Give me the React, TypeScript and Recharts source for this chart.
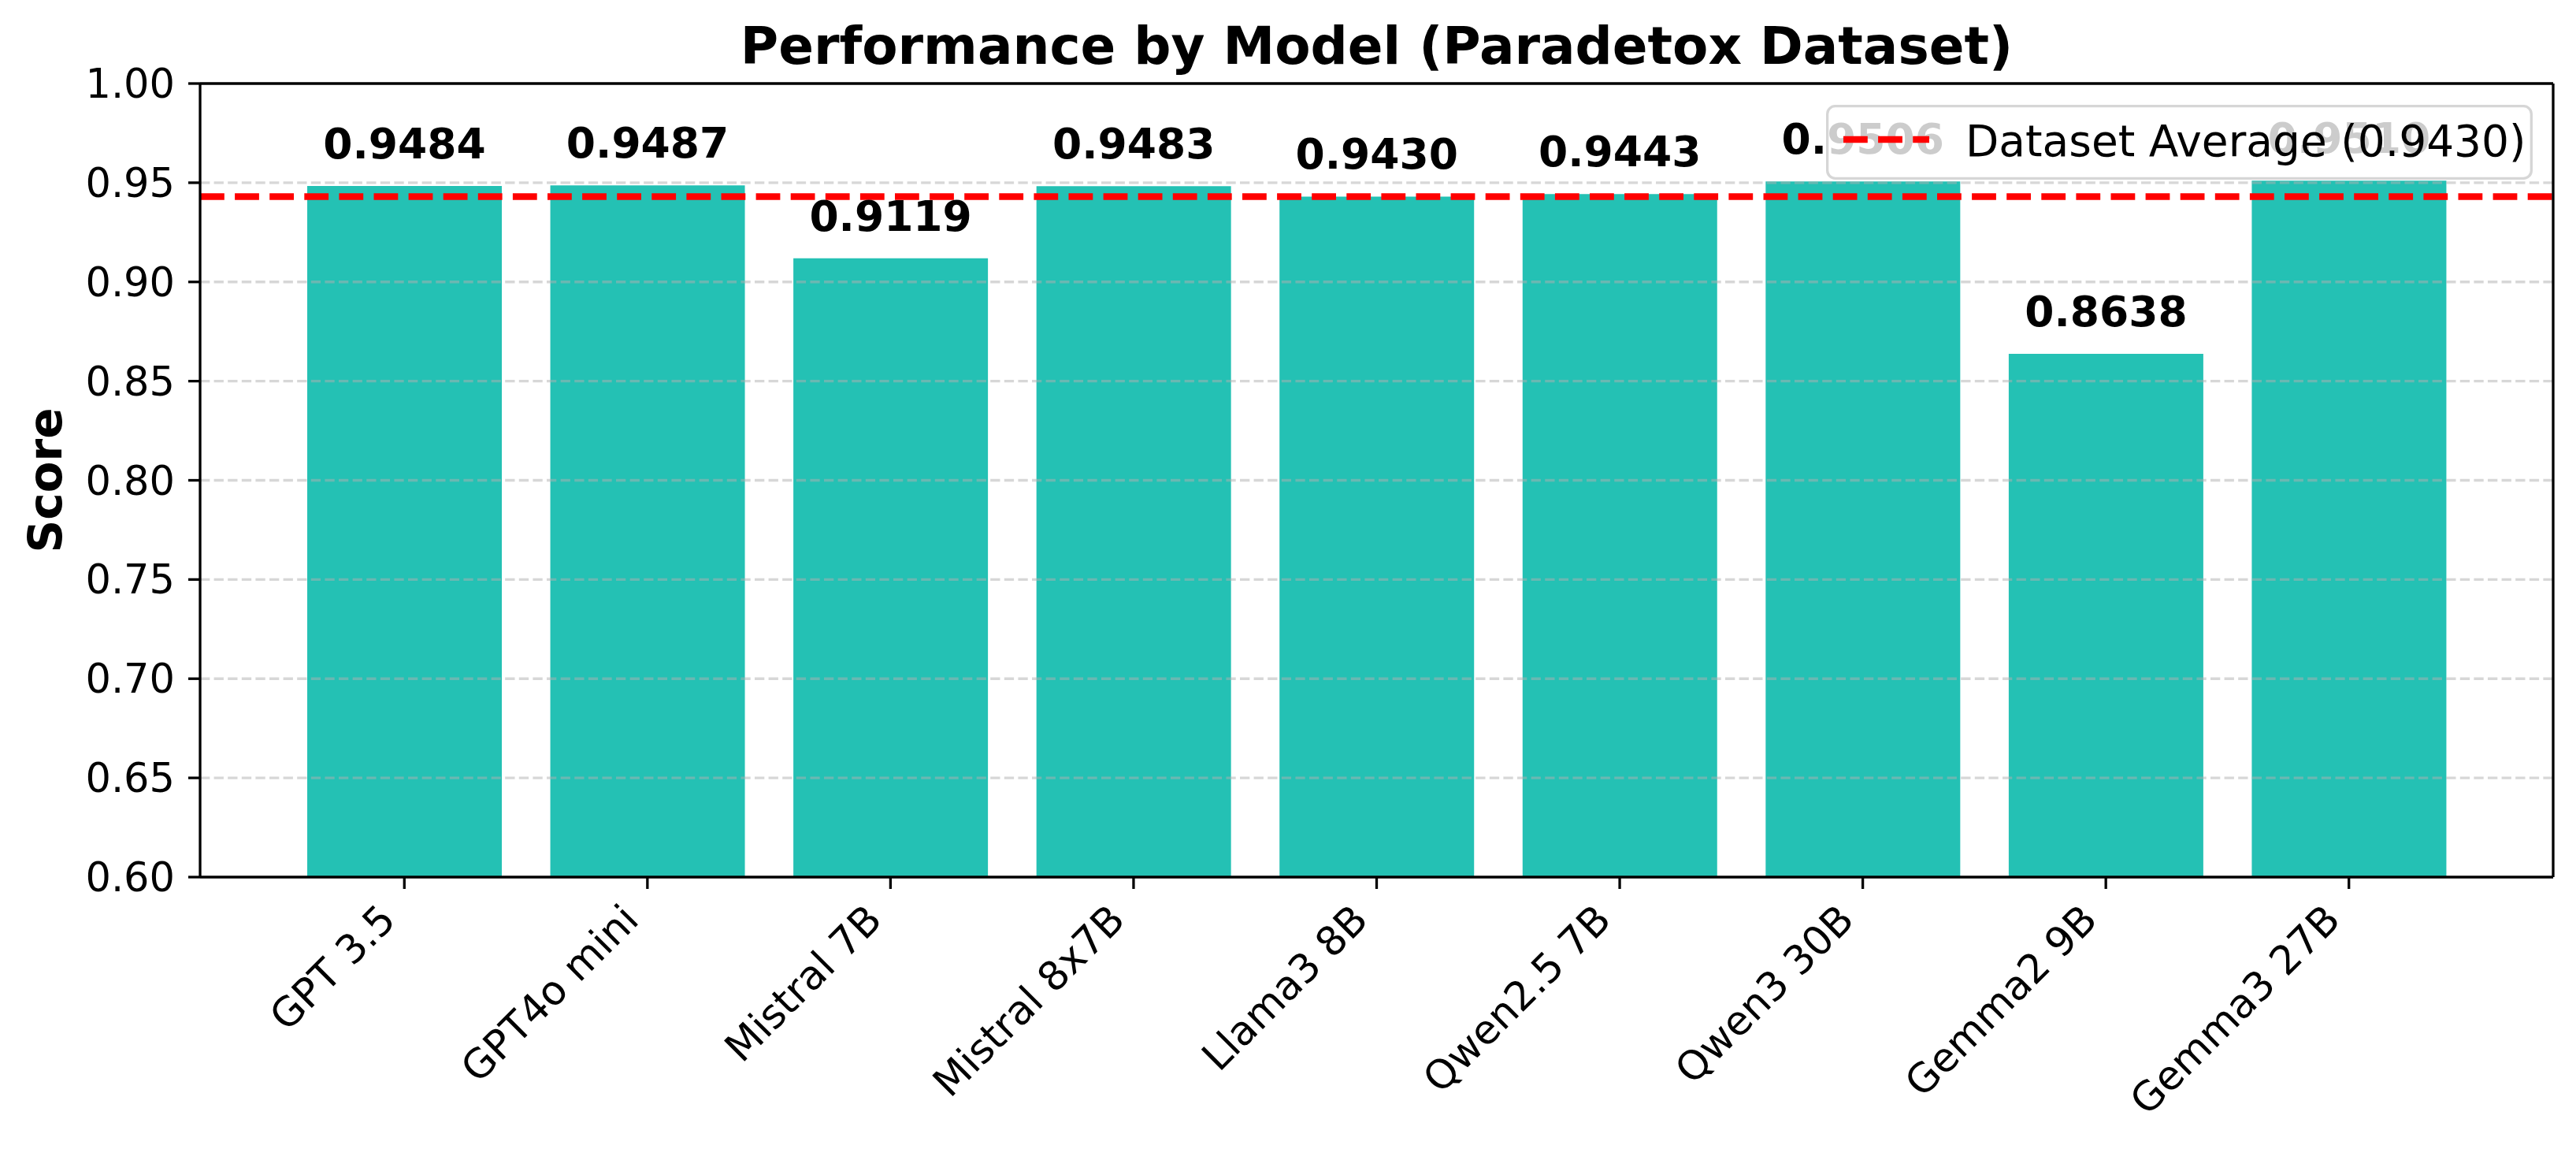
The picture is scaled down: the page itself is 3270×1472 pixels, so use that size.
import React from "react";
import {
  Bar,
  BarChart,
  LabelList,
  Legend,
  ReferenceLine,
  XAxis,
  YAxis
} from "recharts";

const models = [
  "GPT 3.5",
  "GPT4o mini",
  "Mistral 7B",
  "Mistral 8x7B",
  "Llama3 8B",
  "Qwen2.5 7B",
  "Qwen3 30B",
  "Gemma2 9B",
  "Gemma3 27B"
];
const scores = [0.9484, 0.9487, 0.9119, 0.9483, 0.943, 0.9443, 0.9506, 0.8638, 0.951];
const datasetAverage = 0.943;
const yTicks = [0.6, 0.65, 0.7, 0.75, 0.8, 0.85, 0.9, 0.95, 1.0];
const yDomain: [number, number] = [0.6, 1.0];

const data = models.map((model, i) => ({ model, score: scores[i] }));

const W = 3270;
const H = 1472;
const BAR_COLOR = "#24c1b4";
const FONT = "'DejaVu Sans', sans-serif";

const XTick = ({ x, y, payload }: any) => (
  <g transform={`translate(${x - 8.5},${y + 42})`}>
    <text textAnchor="end" transform="rotate(-45)" fontSize={51} fill="#000">
      {payload.value}
    </text>
  </g>
);

const ValueLabel = ({ x, y, width, value }: any) => (
  <text
    x={x + width / 2}
    y={y - 35}
    textAnchor="middle"
    fontSize={53.5}
    fontWeight="bold"
    fill="#000"
  >
    {Number(value).toFixed(4)}
  </text>
);

const LegendBox = () => (
  <svg width={897} height={95} style={{ display: "block" }}>
    <rect
      x={1.65}
      y={1.65}
      width={897 - 3.3}
      height={95 - 3.3}
      rx={10}
      fill="#fff"
      fillOpacity={0.8}
      stroke="#cccccc"
      strokeOpacity={0.8}
      strokeWidth={3.3}
    />
    <line x1={22} x2={131} y1={44} y2={44} stroke="#ff0000" strokeWidth={8.3} strokeDasharray="30.8 13.3" />
    <text x={177} y={65} fontSize={55} fill="#000" fontFamily={FONT}>
      {`Dataset Average (${datasetAverage.toFixed(4)})`}
    </text>
  </svg>
);

const App = () => {
  return (
    <div
      style={{
        position: "absolute",
        left: 0,
        top: 0,
        width: W,
        height: H,
        background: "#fff",
        fontFamily: FONT
      }}
    >
      <svg width={W} height={100} style={{ position: "absolute", left: 0, top: 0 }}>
        <text x={1747.5} y={81} textAnchor="middle" fontSize={66} fontWeight="bold" fill="#000">
          Performance by Model (Paradetox Dataset)
        </text>
      </svg>
      <BarChart
        width={W}
        height={H}
        data={data}
        margin={{ top: 105, right: 28, bottom: 0, left: 0 }}
      >
        <XAxis
          xAxisId="main"
          dataKey="model"
          height={359}
          padding={{ left: 105, right: 105 }}
          interval={0}
          tickSize={15}
          tickMargin={0}
          tickLine={{ stroke: "#000", strokeWidth: 3.3 }}
          axisLine={{ stroke: "#000", strokeWidth: 3.3 }}
          tick={(props: any) => <XTick {...props} />}
        />
        <XAxis
          xAxisId="top"
          dataKey="model"
          orientation="top"
          height={1}
          tick={false}
          tickLine={false}
          axisLine={{ stroke: "#000", strokeWidth: 3.3 }}
        />
        <YAxis
          yAxisId="main"
          width={254}
          domain={yDomain}
          ticks={yTicks}
          allowDataOverflow
          interval={0}
          tickSize={15}
          tickMargin={17}
          tickFormatter={(v: number) => v.toFixed(2)}
          tick={{ fontSize: 51, fill: "#000" }}
          tickLine={{ stroke: "#000", strokeWidth: 3.3 }}
          axisLine={{ stroke: "#000", strokeWidth: 3.3 }}
          label={{
            content: ({ viewBox }: any) => {
              const cy = viewBox.y + viewBox.height / 2;
              return (
                <text
                  x={78}
                  y={cy}
                  transform={`rotate(-90 78 ${cy})`}
                  textAnchor="middle"
                  fontSize={58}
                  fontWeight="bold"
                  fill="#000"
                >
                  Score
                </text>
              );
            }
          }}
        />
        <YAxis
          yAxisId="right"
          orientation="right"
          width={1}
          domain={yDomain}
          tick={false}
          tickLine={false}
          axisLine={{ stroke: "#000", strokeWidth: 3.3 }}
        />
        <Bar
          xAxisId="main"
          yAxisId="main"
          dataKey="score"
          fill={BAR_COLOR}
          barSize={247}
          isAnimationActive={false}
        >
          <LabelList dataKey="score" content={(props: any) => <ValueLabel {...props} />} />
        </Bar>
        {yTicks
          .filter((t) => t > yDomain[0] && t < yDomain[1])
          .map((t) => (
            <ReferenceLine
              key={t}
              xAxisId="main"
              yAxisId="main"
              y={t}
              stroke="#b0b0b0"
              strokeOpacity={0.5}
              strokeWidth={3.3}
              strokeDasharray="12.3 5.3"
            />
          ))}
        <ReferenceLine
          xAxisId="main"
          yAxisId="main"
          y={datasetAverage}
          stroke="#ff0000"
          strokeWidth={8.3}
          strokeDasharray="30.8 13.3"
        />
        <Legend
          verticalAlign="middle"
          align="center"
          layout="horizontal"
          content={() => <LegendBox />}
          wrapperStyle={{ left: 2318, top: 133, width: 897, height: 95, margin: 0 }}
        />
      </BarChart>
    </div>
  );
};

export default App;
